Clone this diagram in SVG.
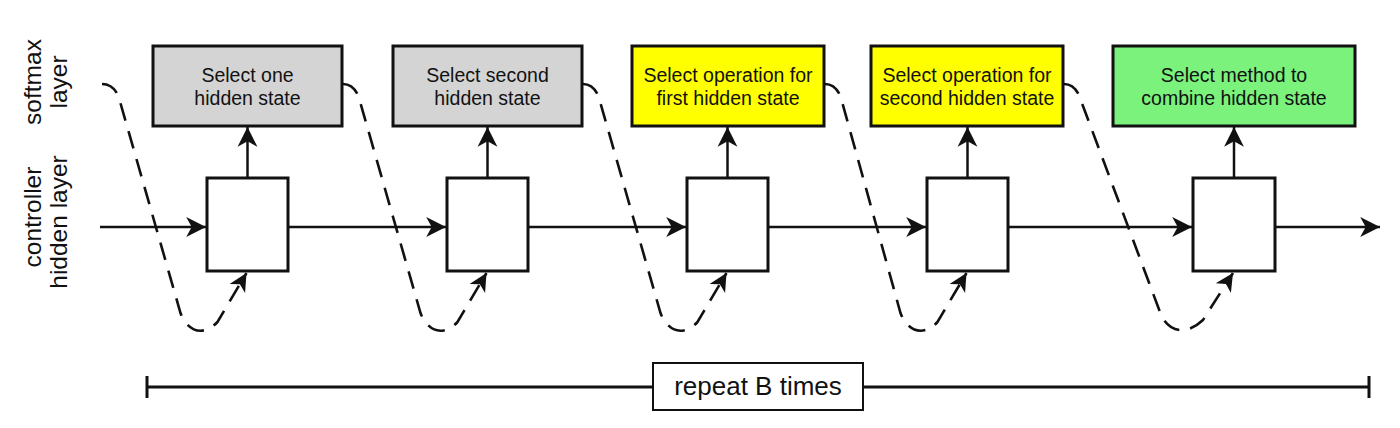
<svg xmlns="http://www.w3.org/2000/svg" width="1400" height="428" viewBox="0 0 1400 428">
<style>
.top{stroke:#111;stroke-width:3}
.gray{fill:#d4d4d4}
.yel{fill:#ffff00}
.grn{fill:#7af27c}
.hid{fill:#fff;stroke:#111;stroke-width:3}
.lbl{font-family:"Liberation Sans",Arial,sans-serif;font-size:19.5px;fill:#111;text-anchor:middle}
.side{font-family:"Liberation Sans",Arial,sans-serif;font-size:24.5px;fill:#111;text-anchor:middle}
.ln{stroke:#111;stroke-width:2.5;fill:none}
.dash{stroke:#111;stroke-width:2.6;fill:none;stroke-dasharray:18 11}
</style>
<defs>
<marker id="ah" markerUnits="userSpaceOnUse" markerWidth="22" markerHeight="22" viewBox="0 0 20 20" refX="19" refY="10" orient="auto">
<path d="M1,1 L19,10 L1,19 L6,10 Z" fill="#111"/>
</marker>
<marker id="ahs" markerUnits="userSpaceOnUse" markerWidth="20" markerHeight="20" viewBox="0 0 20 20" refX="19" refY="10" orient="auto">
<path d="M1,1 L19,10 L1,19 L6,10 Z" fill="#111"/>
</marker>
</defs>
<rect width="1400" height="428" fill="#fff"/>
<g id="side-labels">
<text class="side" transform="translate(41,82) rotate(-90)">softmax</text>
<text class="side" transform="translate(67,82) rotate(-90)">layer</text>
<text class="side" transform="translate(41,217) rotate(-90)">controller</text>
<text class="side" transform="translate(67,222) rotate(-90)">hidden layer</text>
</g>
<g id="connectors">
<line class="ln" x1="100" y1="227" x2="206" y2="227" marker-end="url(#ah)"/>
<line class="ln" x1="288" y1="227" x2="446" y2="227" marker-end="url(#ah)"/>
<line class="ln" x1="528" y1="227" x2="686" y2="227" marker-end="url(#ah)"/>
<line class="ln" x1="768" y1="227" x2="926" y2="227" marker-end="url(#ah)"/>
<line class="ln" x1="1008" y1="227" x2="1192" y2="227" marker-end="url(#ah)"/>
<line class="ln" x1="1275" y1="227" x2="1380" y2="227" marker-end="url(#ah)"/>
<line class="ln" x1="247.5" y1="178" x2="247.5" y2="127" marker-end="url(#ah)"/>
<line class="ln" x1="487.5" y1="178" x2="487.5" y2="127" marker-end="url(#ah)"/>
<line class="ln" x1="727.5" y1="178" x2="727.5" y2="127" marker-end="url(#ah)"/>
<line class="ln" x1="967.5" y1="178" x2="967.5" y2="127" marker-end="url(#ah)"/>
<line class="ln" x1="1234" y1="178" x2="1234" y2="127" marker-end="url(#ah)"/>
<path class="dash" d="M102,84 C111,84 117,91 119,98 L180.5,313 C186.5,330 202.5,338 217.5,322 L246.5,273" marker-end="url(#ahs)"/>
<path class="dash" d="M343,84 C351,84 357,91 359,98 L420.5,313 C426.5,330 442.5,338 457.5,322 L486.5,273" marker-end="url(#ahs)"/>
<path class="dash" d="M583,84 C591,84 597,91 599,98 L660.5,313 C666.5,330 682.5,338 697.5,322 L726.5,273" marker-end="url(#ahs)"/>
<path class="dash" d="M825,84 C833,84 839,91 841,98 L900.5,313 C906.5,330 922.5,338 937.5,322 L966.5,273" marker-end="url(#ahs)"/>
<path class="dash" d="M1064,84 C1072,84 1078,91 1080,98 L1160,312 C1166,330 1184,338 1203,320 L1233,273" marker-end="url(#ahs)"/>
</g>
<g id="softmax-1">
<rect class="top gray" x="153" y="46" width="189" height="80"/>
<text class="lbl" x="247.5" y="82">Select one</text>
<text class="lbl" x="247.5" y="105">hidden state</text>
</g>
<g id="softmax-2">
<rect class="top gray" x="393" y="46" width="189" height="80"/>
<text class="lbl" x="487.5" y="82">Select second</text>
<text class="lbl" x="487.5" y="105">hidden state</text>
</g>
<g id="softmax-3">
<rect class="top yel" x="632" y="46" width="192" height="80"/>
<text class="lbl" x="728" y="82">Select operation for</text>
<text class="lbl" x="728" y="105">first hidden state</text>
</g>
<g id="softmax-4">
<rect class="top yel" x="871" y="46" width="192" height="80"/>
<text class="lbl" x="967" y="82">Select operation for</text>
<text class="lbl" x="967" y="105">second hidden state</text>
</g>
<g id="softmax-5">
<rect class="top grn" x="1113" y="46" width="242" height="80"/>
<text class="lbl" x="1234" y="82">Select method to</text>
<text class="lbl" x="1234" y="105">combine hidden state</text>
</g>
<g id="hidden-1"><rect class="hid" x="207" y="178" width="81" height="93"/></g>
<g id="hidden-2"><rect class="hid" x="447" y="178" width="81" height="93"/></g>
<g id="hidden-3"><rect class="hid" x="687" y="178" width="81" height="93"/></g>
<g id="hidden-4"><rect class="hid" x="927" y="178" width="81" height="93"/></g>
<g id="hidden-5"><rect class="hid" x="1193" y="178" width="82" height="93"/></g>
<g id="repeat">
<line class="ln" x1="147" y1="387" x2="1369" y2="387" style="stroke-width:3"/>
<line class="ln" x1="147" y1="376" x2="147" y2="398" style="stroke-width:3"/>
<line class="ln" x1="1369" y1="376" x2="1369" y2="398" style="stroke-width:3"/>
<rect x="653" y="363" width="210" height="47" fill="#fff" stroke="#111" stroke-width="2"/>
<text x="758" y="395" style="font-family:'Liberation Sans',Arial,sans-serif;font-size:26px;fill:#111;text-anchor:middle">repeat B times</text>
</g>
</svg>
